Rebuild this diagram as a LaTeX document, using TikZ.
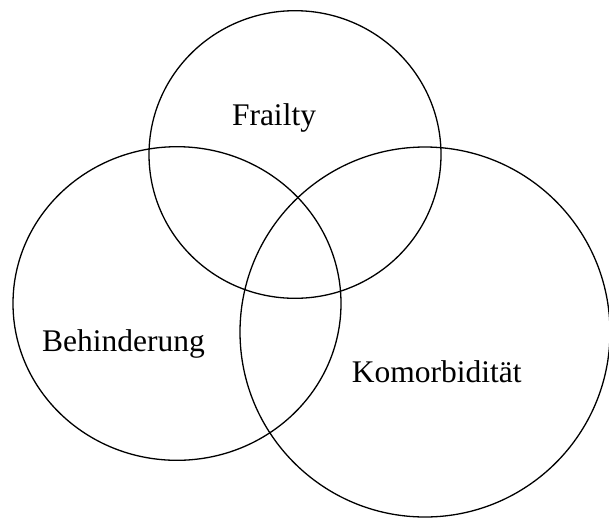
\documentclass[tikz,border=0pt]{standalone}
\usepackage{fontspec}
\setmainfont{Liberation Serif}
\begin{document}
\begin{tikzpicture}[x=1pt,y=-1pt,
  ring/.style={draw=black,line width=1.3pt},
  lab/.style={anchor=base,inner sep=0pt,font=\fontsize{31.5}{36}\selectfont}]
\useasboundingbox (0,0) rectangle (609,517);
\clip (0,0) rectangle (609,517);
\coordinate (ctop) at (295,154.5);
\coordinate (cleft) at (177,303.5);
\coordinate (cright) at (425,332);
\draw[ring] (ctop) ellipse [x radius=146, y radius=143.8];
\draw[ring] (cleft) ellipse [x radius=164, y radius=156.8];
\draw[ring] (cright) ellipse [x radius=185, y radius=185];
\node[lab] (frailty) at (274,125) {Frailty};
\node[lab] (behind) at (123.5,351.5) {Behinderung};
\node[lab] (komorb) at (436.7,382) {Komorbidität};
\end{tikzpicture}
\end{document}
